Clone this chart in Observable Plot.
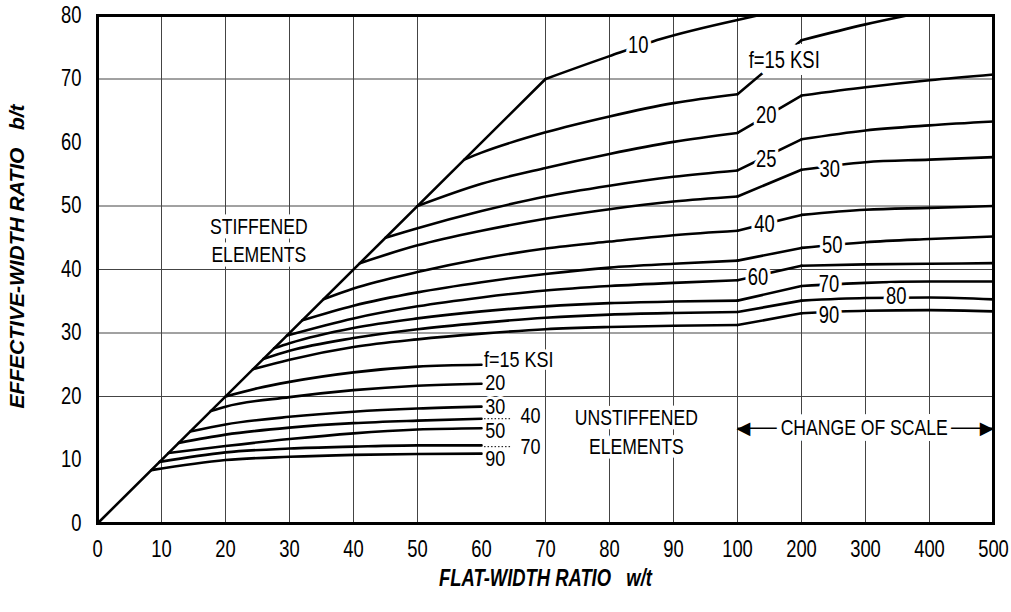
<!DOCTYPE html>
<html><head><meta charset="utf-8">
<script src="https://cdn.jsdelivr.net/npm/d3@7"></script>
<script src="https://cdn.jsdelivr.net/npm/@observablehq/plot@0.6"></script>
<style>
html,body{margin:0;padding:0;background:#fff;}
#chart svg{display:block;}
</style></head><body><div id="chart"></div>
<script>
// ---------- data (w/t, b/t) ----------
const diagonal = [[0,0],[70,70]];

const stiff10 = [[70,70],[80,73.6],[88,76.3],[100,79.3],[131,80]];
const stiff15 = [[57.3,57.3],[60,58.4],[70,61.6],[80,64.1],[90,66.2],[100,67.6],[200,76.1],[300,78.6],[365,80]];
const stiff20 = [[50,50],[60,53.5],[70,56.0],[80,58.2],[90,60.1],[100,61.5],[200,67.4],[300,68.7],[400,69.8],[500,70.7]];
const stiff25 = [[45,45],[50,46.5],[60,49.2],[70,51.5],[80,53.2],[90,54.6],[100,55.6],[200,60.5],[300,61.9],[400,62.7],[500,63.3]];
const stiff30 = [[41,41],[50,43.8],[60,46.1],[70,48.0],[80,49.5],[90,50.7],[100,51.5],[200,55.7],[300,56.9],[400,57.3],[500,57.7]];
const stiff40 = [[35.3,35.3],[40,37.0],[50,39.6],[60,41.7],[70,43.3],[80,44.4],[90,45.4],[100,46.1],[200,48.6],[300,49.4],[400,49.7],[500,50.0]];
const stiff50 = [[32,32],[40,34.3],[50,36.4],[60,38.0],[70,39.3],[80,40.3],[90,40.9],[100,41.4],[200,43.4],[300,44.3],[400,44.8],[500,45.2]];
const stiff60 = [[29.6,29.6],[40,32.3],[50,34.2],[60,35.6],[70,36.7],[80,37.4],[90,37.9],[100,38.3],[200,40.6],[300,40.8],[400,40.9],[500,41.0]];
const stiff70 = [[27.6,27.6],[30,28.4],[40,30.8],[50,32.3],[60,33.4],[70,34.2],[80,34.7],[90,34.95],[100,35.1],[200,37.4],[300,37.9],[400,38.1],[500,38.1]];
const stiff80 = [[25.9,25.9],[30,27.2],[40,29.2],[50,30.6],[60,31.6],[70,32.4],[80,32.9],[90,33.15],[100,33.3],[200,35.1],[300,35.5],[400,35.6],[500,35.3]];
const stiff90 = [[24.3,24.3],[30,25.8],[40,27.8],[50,29.0],[60,29.9],[70,30.6],[80,30.95],[90,31.15],[100,31.25],[200,33.1],[300,33.5],[400,33.6],[500,33.4]];

const unst15 = [[20,20],[25,21.3],[30,22.3],[40,23.8],[50,24.7],[60,25.0]];
const unst20 = [[17.7,17.7],[20,18.4],[30,19.9],[40,21.0],[50,21.7],[60,22.0]];
const unst30 = [[14.5,14.5],[20,15.6],[30,16.8],[40,17.6],[50,18.1],[60,18.4]];
const unst40 = [[12.7,12.7],[20,14.0],[30,15.1],[40,15.8],[50,16.2],[60,16.5]];
const unst50 = [[11.1,11.1],[20,12.2],[30,13.3],[40,14.2],[50,14.8],[60,15.0]];
const unst70 = [[9.7,9.7],[20,11.2],[30,11.8],[40,12.1],[50,12.3],[60,12.3]];
const unst90 = [[8.4,8.4],[20,10.0],[30,10.5],[40,10.8],[50,10.95],[60,11.0]];

// curve labels (text, w/t, b/t)
const stiffLabels = ["10","f=15 KSI","20","25","30","40","50","60","70","80","90"];
const stiffLabelW = [84.5,173,145,145,244,142,248,132,243,348,243];
const stiffLabelB = [75.3,72.9,64.3,57.3,55.7,47.1,43.8,38.7,37.6,35.8,32.8];

const unstLabels = ["f=15 KSI","20","30","40","50","70","90"];
const unstLabelW = [60.4,60.6,60.6,66.1,60.6,66.1,60.6];
const unstLabelB = [25.75,22.2,18.4,17.0,14.65,12.1,10.2];
const unstLeaderB = [16.5,12.1];
const unstLeaderW = [60.4,64.6];

const regionLabels = ["STIFFENED\nELEMENTS","UNSTIFFENED\nELEMENTS"];
const regionLabelW = [25.2,84.2];
const regionLabelB = [44.8,14.65];

const scaleNote = "CHANGE OF SCALE";
const scaleArrowW = [100,500];
const scaleArrowB = 15.0;
const scaleNoteW = 298;

const xTickLabels = [0,10,20,30,40,50,60,70,80,90,100,200,300,400,500];
const yTickLabels = [0,10,20,30,40,50,60,70,80];
const xGridValues = [10,20,30,40,50,70,80,90,100,200,300,400];
const yGridValues = [20,30,40,50,70];

const xTitle = "FLAT-WIDTH RATIO\u00a0\u00a0\u00a0w/t";
const yTitle = "EFFECTIVE-WIDTH RATIO\u00a0\u00a0\u00a0b/t";

// ---------- change of scale on x: linear to 100, then 100 per grid step ----------
const pos = w => w <= 100 ? w : 100 + (w - 100) / 10;
const unpos = p => p <= 100 ? p : 100 + (p - 100) * 10;

function segments(name, pts) {
  const rows = [];
  const parts = [
    pts.filter(p => p[0] <= 100),
    pts.filter(p => p[0] >= 100 && p[0] <= 200),
    pts.filter(p => p[0] >= 200)
  ];
  parts.forEach((part, i) => {
    if (part.length >= 2) part.forEach(p => rows.push({id: name + "-" + i, w: p[0], b: p[1]}));
  });
  return rows;
}
const curves = {
  s10: stiff10, s15: stiff15, s20: stiff20, s25: stiff25, s30: stiff30, s40: stiff40,
  s50: stiff50, s60: stiff60, s70: stiff70, s80: stiff80, s90: stiff90,
  u15: unst15, u20: unst20, u30: unst30, u40: unst40, u50: unst50, u70: unst70, u90: unst90
};
const rows = Object.entries(curves).flatMap(([k, v]) => segments(k, v));
const diagRows = diagonal.map(p => ({w: p[0], b: p[1]}));
const stiffLab = stiffLabels.map((t, i) => ({t, w: stiffLabelW[i], b: stiffLabelB[i]}));
const unstLab = unstLabels.map((t, i) => ({t, w: unstLabelW[i], b: unstLabelB[i]}));
const leaders = unstLeaderB.map(b => ({w1: unstLeaderW[0], w2: unstLeaderW[1], b}));
const regions = regionLabels.map((t, i) => ({t, w: regionLabelW[i], b: regionLabelB[i]}));

const FONT = "'Liberation Sans',Arial,Helvetica,sans-serif";
const halo = {stroke: "white", strokeWidth: 8, fill: "black", paintOrder: "stroke"};

const chart = Plot.plot({
  width: 1011, height: 612,
  marginLeft: 97, marginRight: 18, marginTop: 15, marginBottom: 89,
  style: {fontFamily: FONT, background: "white", color: "black"},
  x: {domain: [0, 140]},
  y: {domain: [0, 80]},
  marks: [
    Plot.ruleX(xGridValues, {x: d => pos(d), stroke: "#444", strokeWidth: 1}),
    Plot.ruleY(yGridValues, {y: d => d, stroke: "#444", strokeWidth: 1}),
    Plot.line(diagRows, {x: d => pos(d.w), y: "b", stroke: "black", strokeWidth: 2.6}),
    Plot.line(rows, {x: d => pos(d.w), y: "b", z: "id", curve: "monotone-x", stroke: "black", strokeWidth: 2.6}),
    Plot.link(leaders, {x1: d => pos(d.w1), x2: d => pos(d.w2), y1: "b", y2: "b", stroke: "black", strokeWidth: 1, strokeDasharray: "1.5,2"}),
    Plot.link([{b: scaleArrowB}], {x1: () => pos(scaleArrowW[0]), x2: () => pos(scaleArrowW[1]), y1: "b", y2: "b", stroke: "black", strokeWidth: 1.5}),
    Plot.text(stiffLab.filter(d => d.t.length <= 2), {x: d => pos(d.w), y: "b", text: "t", fontSize: 23, textAnchor: "middle", ...halo}),
    Plot.text(stiffLab.filter(d => d.t.length > 2), {x: d => pos(d.w), y: "b", text: "t", fontSize: 23, textAnchor: "middle", ...halo, strokeWidth: 14}),
    Plot.text(unstLab, {x: d => pos(d.w), y: "b", text: "t", fontSize: 22.5, textAnchor: "start", ...halo, strokeWidth: 6}),
    Plot.text(regions, {x: d => pos(d.w), y: "b", text: "t", fontSize: 22, lineHeight: 1.3, ...halo, strokeWidth: 9}),
    Plot.text([{w: scaleNoteW, b: scaleArrowB}], {x: d => pos(d.w), y: "b", text: () => scaleNote, fontSize: 22, ...halo, strokeWidth: 12}),
    Plot.text([{w: scaleArrowW[0], b: scaleArrowB}], {x: d => pos(d.w), y: "b", text: () => "\u25C0", textAnchor: "start", fontSize: 18, fontFamily: "DejaVu Sans", dx: -1, className: "nosqueeze"}),
    Plot.text([{w: scaleArrowW[1], b: scaleArrowB}], {x: d => pos(d.w), y: "b", text: () => "\u25B6", textAnchor: "end", fontSize: 18, fontFamily: "DejaVu Sans", className: "nosqueeze"}),
    Plot.frame({stroke: "black", strokeWidth: 3}),
    Plot.axisX(xTickLabels.map(pos), {tickFormat: unpos, tickSize: 0, tickPadding: 17, fontSize: 23, label: null}),
    Plot.axisY(yTickLabels, {tickSize: 0, tickPadding: 16, fontSize: 23, label: null}),
    Plot.text([xTitle], {frameAnchor: "bottom", dy: 55, lineAnchor: "middle", textAnchor: "middle", text: d => d, fontSize: 23, fontWeight: "bold", fontStyle: "italic"}),
    Plot.text([yTitle], {frameAnchor: "left", dx: -80, dy: -13, lineAnchor: "middle", textAnchor: "middle", rotate: -90, text: d => d, fontSize: 21, fontWeight: "bold", fontStyle: "italic", className: "nosqueeze"})
  ]
});

// condensed lettering (the original uses a condensed grotesque): squeeze glyphs horizontally around each text's anchor
chart.querySelectorAll("text").forEach(t => {
  if (t.closest(".nosqueeze")) return;
  let tr = t.getAttribute("transform") || "";
  const xa = t.getAttribute("x");
  const x0 = xa !== null && !isNaN(+xa) ? +xa : 0;
  tr += ` translate(${x0},0) scale(0.8,1) translate(${-x0},0)`;
  t.setAttribute("transform", tr.trim());
});
document.getElementById("chart").appendChild(chart);
</script>
</body></html>
